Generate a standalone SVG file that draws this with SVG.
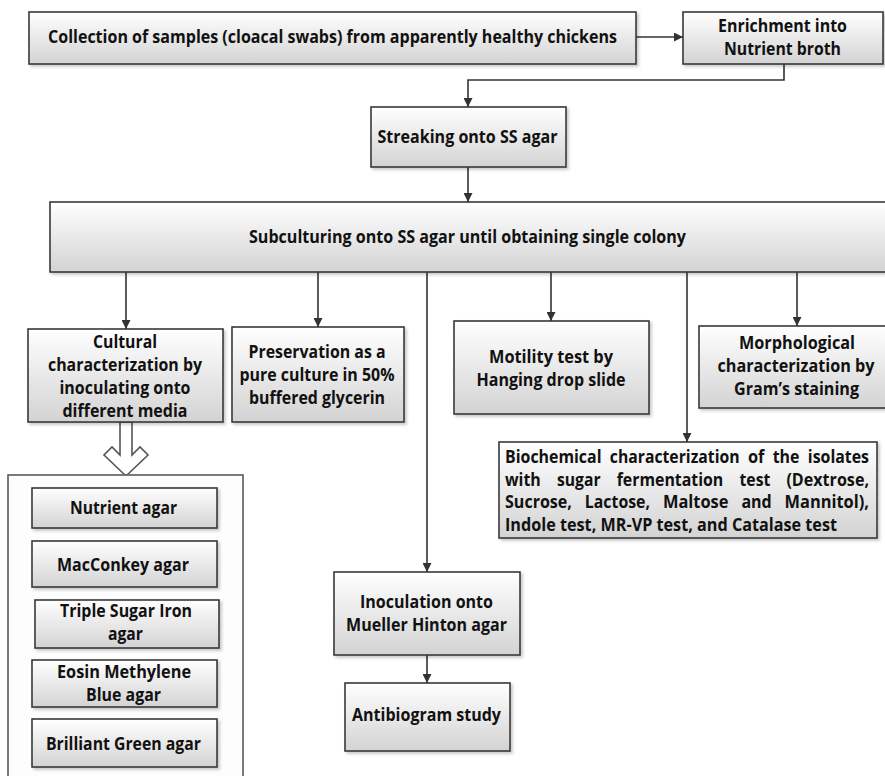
<svg xmlns="http://www.w3.org/2000/svg" width="885" height="776" viewBox="0 0 885 776">
<defs>
<linearGradient id="gf" x1="0" y1="0" x2="0" y2="1">
<stop offset="0" stop-color="#ffffff"/>
<stop offset="1" stop-color="#d3d3d3"/>
</linearGradient>
<filter id="sh" x="-10%" y="-10%" width="130%" height="140%">
<feDropShadow dx="2" dy="2" stdDeviation="1.5" flood-color="#000" flood-opacity="0.22"/>
</filter>
<marker id="ah" viewBox="0 0 10 10" refX="10" refY="5" markerWidth="9" markerHeight="9" markerUnits="userSpaceOnUse" orient="auto">
<path d="M0,0 L10,5 L0,10 z" fill="#333"/>
</marker>
<style>
.box{fill:url(#gf);stroke:#3a3a3a;stroke-width:1.6;filter:url(#sh)}
.cont{fill:#fdfdfd;stroke:#5a5a5a;stroke-width:1.6}
.t{font-family:"Open Sans",Lato,"Liberation Sans",sans-serif;font-weight:700;font-size:17.5px;fill:#111}
.m{text-anchor:middle}
.c{fill:none;stroke:#333;stroke-width:1.6}
.ca{fill:none;stroke:#333;stroke-width:1.6;marker-end:url(#ah)}
.hol{fill:#ffffff;stroke:#555;stroke-width:1.6;stroke-linejoin:miter}
</style>
</defs>
<rect width="885" height="776" fill="#ffffff"/>

<g id="connectors">
<line class="ca" x1="636" y1="37" x2="683" y2="37"/>
<polyline class="ca" points="784,64 784,80 468,80 468,107"/>
<line class="ca" x1="468" y1="167" x2="468" y2="202"/>
<line class="ca" x1="126" y1="272" x2="126" y2="329"/>
<line class="ca" x1="318" y1="272" x2="318" y2="327"/>
<line class="ca" x1="427" y1="272" x2="427" y2="572"/>
<line class="ca" x1="551" y1="272" x2="551" y2="321"/>
<line class="ca" x1="687" y1="272" x2="687" y2="442"/>
<line class="ca" x1="797" y1="272" x2="797" y2="326"/>
<line class="ca" x1="427" y1="655" x2="427" y2="683"/>
<path class="hol" d="M120,422 V455 L112,447 L104,455 L126,476 L148,455 L140,447 L132,455 V422 Z"/>
</g>

<g id="collection">
<rect class="box" x="29" y="12" width="607" height="52"/>
<text class="t m" x="332.5" y="43" textLength="569" lengthAdjust="spacingAndGlyphs">Collection of samples (cloacal swabs) from apparently healthy chickens</text>
</g>

<g id="enrichment">
<rect class="box" x="683" y="12" width="200" height="52"/>
<text class="t m" x="782.5" y="32" textLength="129" lengthAdjust="spacingAndGlyphs">Enrichment into</text>
<text class="t m" x="782.5" y="55" textLength="117" lengthAdjust="spacingAndGlyphs">Nutrient broth</text>
</g>

<g id="streaking">
<rect class="box" x="371" y="107" width="195" height="60"/>
<text class="t m" x="467.5" y="143" textLength="180" lengthAdjust="spacingAndGlyphs">Streaking onto SS agar</text>
</g>

<g id="subculturing">
<rect class="box" x="50" y="202" width="845" height="70"/>
<text class="t m" x="467.5" y="243" textLength="437" lengthAdjust="spacingAndGlyphs">Subculturing onto SS agar until obtaining single colony</text>
</g>

<g id="cultural">
<rect class="box" x="28" y="329" width="195" height="93"/>
<text class="t m" x="125" y="348" textLength="64" lengthAdjust="spacingAndGlyphs">Cultural</text>
<text class="t m" x="125" y="371" textLength="154" lengthAdjust="spacingAndGlyphs">characterization by</text>
<text class="t m" x="125" y="394" textLength="131" lengthAdjust="spacingAndGlyphs">inoculating onto</text>
<text class="t m" x="125" y="417" textLength="125" lengthAdjust="spacingAndGlyphs">different media</text>
</g>

<g id="preservation">
<rect class="box" x="232" y="327" width="172" height="95"/>
<text class="t m" x="317" y="358" textLength="137" lengthAdjust="spacingAndGlyphs">Preservation as a</text>
<text class="t m" x="317" y="381" textLength="155" lengthAdjust="spacingAndGlyphs">pure culture in 50%</text>
<text class="t m" x="317" y="404" textLength="136" lengthAdjust="spacingAndGlyphs">buffered glycerin</text>
</g>

<g id="motility">
<rect class="box" x="454" y="321" width="195" height="93"/>
<text class="t m" x="551" y="363" textLength="124" lengthAdjust="spacingAndGlyphs">Motility test by</text>
<text class="t m" x="551" y="386" textLength="149" lengthAdjust="spacingAndGlyphs">Hanging drop slide</text>
</g>

<g id="morphological">
<rect class="box" x="699" y="326" width="192" height="82"/>
<text class="t m" x="797" y="349" textLength="116" lengthAdjust="spacingAndGlyphs">Morphological</text>
<text class="t m" x="796" y="372" textLength="157" lengthAdjust="spacingAndGlyphs">characterization by</text>
<text class="t m" x="796.5" y="395" textLength="125" lengthAdjust="spacingAndGlyphs">Gram’s staining</text>
</g>

<g id="biochemical">
<rect class="box" x="499" y="442" width="378" height="96"/>
<text class="t" x="505" y="463" textLength="96.5" lengthAdjust="spacingAndGlyphs">Biochemical</text>
<text class="t" x="609.8" y="463" textLength="129.8" lengthAdjust="spacingAndGlyphs">characterization</text>
<text class="t" x="747.9" y="463" textLength="16.5" lengthAdjust="spacingAndGlyphs">of</text>
<text class="t" x="772.7" y="463" textLength="26.8" lengthAdjust="spacingAndGlyphs">the</text>
<text class="t" x="807.8" y="463" textLength="61.2" lengthAdjust="spacingAndGlyphs">isolates</text>
<text class="t" x="505" y="486" textLength="35.8" lengthAdjust="spacingAndGlyphs">with</text>
<text class="t" x="557" y="486" textLength="43.6" lengthAdjust="spacingAndGlyphs">sugar</text>
<text class="t" x="616.7" y="486" textLength="106.6" lengthAdjust="spacingAndGlyphs">fermentation</text>
<text class="t" x="739.5" y="486" textLength="30.8" lengthAdjust="spacingAndGlyphs">test</text>
<text class="t" x="786.4" y="486" textLength="82.6" lengthAdjust="spacingAndGlyphs">(Dextrose,</text>
<text class="t" x="505" y="508" textLength="66.9" lengthAdjust="spacingAndGlyphs">Sucrose,</text>
<text class="t" x="584.8" y="508" textLength="65.2" lengthAdjust="spacingAndGlyphs">Lactose,</text>
<text class="t" x="662.9" y="508" textLength="65.6" lengthAdjust="spacingAndGlyphs">Maltose</text>
<text class="t" x="741.4" y="508" textLength="30.3" lengthAdjust="spacingAndGlyphs">and</text>
<text class="t" x="784.6" y="508" textLength="84.4" lengthAdjust="spacingAndGlyphs">Mannitol),</text>
<text class="t" x="505" y="531" textLength="332" lengthAdjust="spacingAndGlyphs">Indole test, MR-VP test, and Catalase test</text>
</g>

<g id="inoculation">
<rect class="box" x="334" y="572" width="186" height="83"/>
<text class="t m" x="426.5" y="608" textLength="133" lengthAdjust="spacingAndGlyphs">Inoculation onto</text>
<text class="t m" x="426.5" y="631" textLength="161" lengthAdjust="spacingAndGlyphs">Mueller Hinton agar</text>
</g>

<g id="antibiogram">
<rect class="box" x="345" y="683" width="165" height="68"/>
<text class="t m" x="426.5" y="721" textLength="149" lengthAdjust="spacingAndGlyphs">Antibiogram study</text>
</g>

<g id="media">
<rect class="cont" x="8" y="475" width="235" height="320"/>
<g id="nutrient-agar">
<rect class="box" x="32" y="488" width="185" height="40"/>
<text class="t m" x="123.5" y="514" textLength="107" lengthAdjust="spacingAndGlyphs">Nutrient agar</text>
</g>
<g id="macconkey-agar">
<rect class="box" x="32" y="541" width="185" height="46"/>
<text class="t m" x="123" y="571" textLength="132" lengthAdjust="spacingAndGlyphs">MacConkey agar</text>
</g>
<g id="tsi-agar">
<rect class="box" x="35" y="600" width="184" height="48"/>
<text class="t m" x="126" y="617" textLength="132" lengthAdjust="spacingAndGlyphs">Triple Sugar Iron</text>
<text class="t m" x="125.5" y="640" textLength="35" lengthAdjust="spacingAndGlyphs">agar</text>
</g>
<g id="emb-agar">
<rect class="box" x="32" y="660" width="185" height="47"/>
<text class="t m" x="124" y="678" textLength="134" lengthAdjust="spacingAndGlyphs">Eosin Methylene</text>
<text class="t m" x="123.5" y="701" textLength="75" lengthAdjust="spacingAndGlyphs">Blue agar</text>
</g>
<g id="bg-agar">
<rect class="box" x="32" y="719" width="185" height="48"/>
<text class="t m" x="123.5" y="750" textLength="155" lengthAdjust="spacingAndGlyphs">Brilliant Green agar</text>
</g>
</g>
</svg>
